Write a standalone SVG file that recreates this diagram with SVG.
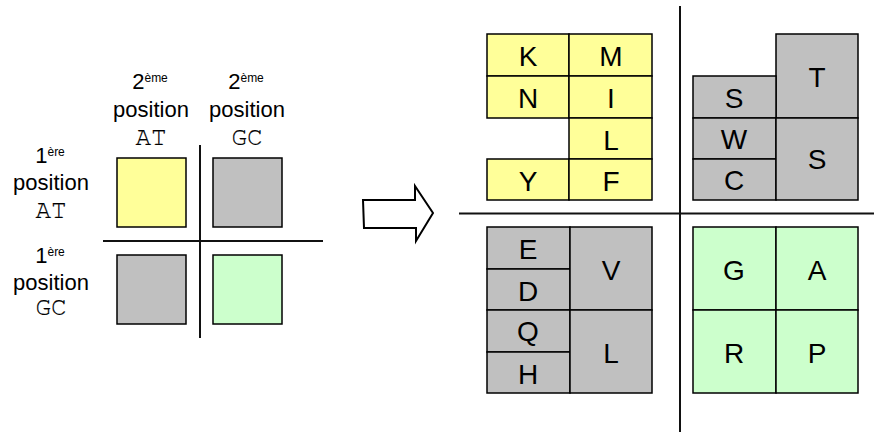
<svg xmlns="http://www.w3.org/2000/svg" width="874" height="432" viewBox="0 0 874 432">
<style>
.lbl{font-family:"Liberation Sans",Arial,sans-serif;font-size:22px;fill:#000;text-anchor:middle}
.sup{font-size:12px}
.mono{font-family:"Nimbus Mono PS","FreeMono","Courier New","Courier","Liberation Mono",monospace;font-size:26px;fill:#000;stroke:#000;stroke-width:0.15;text-anchor:middle}
.aa{font-family:"Liberation Sans",Arial,sans-serif;font-size:28px;fill:#000;text-anchor:middle}
.box{stroke:#000;stroke-width:1.5}
.y{fill:#FFFF99}
.g{fill:#C0C0C0}
.gr{fill:#CCFFCC}
.axis{stroke:#111;stroke-width:2;fill:none}
</style>
<g id="legend">
  <g id="col-labels">
    <text class="lbl" x="150" y="89">2<tspan class="sup" dy="-7">ème</tspan></text>
    <text class="lbl" x="151" y="117">position</text>
    <text class="mono" x="151" y="145">AT</text>
    <text class="lbl" x="246" y="89">2<tspan class="sup" dy="-7">ème</tspan></text>
    <text class="lbl" x="247" y="117">position</text>
    <text class="mono" x="247" y="145">GC</text>
  </g>
  <g id="row-labels">
    <text class="lbl" x="50" y="163">1<tspan class="sup" dy="-7">ère</tspan></text>
    <text class="lbl" x="51" y="190">position</text>
    <text class="mono" x="51" y="218">AT</text>
    <text class="lbl" x="50" y="263">1<tspan class="sup" dy="-7">ère</tspan></text>
    <text class="lbl" x="51" y="290">position</text>
    <text class="mono" x="51" y="315">GC</text>
  </g>
  <g id="legend-boxes">
    <rect class="box y" x="117" y="158" width="69" height="69"/>
    <rect class="box g" x="213" y="158" width="69" height="69"/>
    <rect class="box g" x="117" y="255" width="69" height="69"/>
    <rect class="box gr" x="213" y="255" width="69" height="69"/>
  </g>
  <line class="axis" x1="200" y1="145" x2="200" y2="338"/>
  <line class="axis" x1="103" y1="241" x2="323" y2="241"/>
</g>
<g id="connectors">
  <polygon points="363,200 415,200 415,186 433,213 416,241 416,228 364,228" fill="#fff" stroke="#000" stroke-width="2" stroke-linejoin="miter"/>
</g>
<g id="axes-right">
  <line class="axis" x1="680" y1="6" x2="680" y2="432"/>
  <line class="axis" x1="459" y1="213.5" x2="874" y2="213.5"/>
</g>
<g id="quadrant-AT-AT">
  <rect class="box y" x="487" y="34" width="82" height="42"/>
  <rect class="box y" x="569" y="34" width="83" height="42"/>
  <rect class="box y" x="487" y="76" width="82" height="42"/>
  <rect class="box y" x="569" y="76" width="83" height="42"/>
  <rect class="box y" x="569" y="118" width="83" height="41"/>
  <rect class="box y" x="487" y="159" width="82" height="41"/>
  <rect class="box y" x="569" y="159" width="83" height="41"/>
  <text class="aa" x="528" y="66">K</text>
  <text class="aa" x="611" y="66">M</text>
  <text class="aa" x="528" y="108">N</text>
  <text class="aa" x="611" y="108">I</text>
  <text class="aa" x="611" y="150">L</text>
  <text class="aa" x="528" y="191">Y</text>
  <text class="aa" x="611" y="191">F</text>
</g>
<g id="quadrant-AT-GC">
  <rect class="box g" x="776" y="34" width="82" height="84"/>
  <rect class="box g" x="693" y="76" width="83" height="42"/>
  <rect class="box g" x="693" y="118" width="83" height="41"/>
  <rect class="box g" x="693" y="159" width="83" height="41"/>
  <rect class="box g" x="776" y="118" width="82" height="82"/>
  <text class="aa" x="817" y="87">T</text>
  <text class="aa" x="734" y="108">S</text>
  <text class="aa" x="734" y="149">W</text>
  <text class="aa" x="734" y="190">C</text>
  <text class="aa" x="817" y="169">S</text>
</g>
<g id="quadrant-GC-AT">
  <rect class="box g" x="487" y="227" width="83" height="42"/>
  <rect class="box g" x="487" y="269" width="83" height="41"/>
  <rect class="box g" x="487" y="310" width="83" height="42"/>
  <rect class="box g" x="487" y="352" width="83" height="41"/>
  <rect class="box g" x="570" y="227" width="82" height="83"/>
  <rect class="box g" x="570" y="310" width="82" height="83"/>
  <text class="aa" x="528" y="259">E</text>
  <text class="aa" x="528" y="301">D</text>
  <text class="aa" x="528" y="341">Q</text>
  <text class="aa" x="528" y="384">H</text>
  <text class="aa" x="611" y="280">V</text>
  <text class="aa" x="611" y="363">L</text>
</g>
<g id="quadrant-GC-GC">
  <rect class="box gr" x="693" y="227" width="83" height="83"/>
  <rect class="box gr" x="776" y="227" width="82" height="83"/>
  <rect class="box gr" x="693" y="310" width="83" height="83"/>
  <rect class="box gr" x="776" y="310" width="82" height="83"/>
  <text class="aa" x="734" y="280">G</text>
  <text class="aa" x="817" y="280">A</text>
  <text class="aa" x="734" y="363">R</text>
  <text class="aa" x="817" y="363">P</text>
</g>
</svg>
